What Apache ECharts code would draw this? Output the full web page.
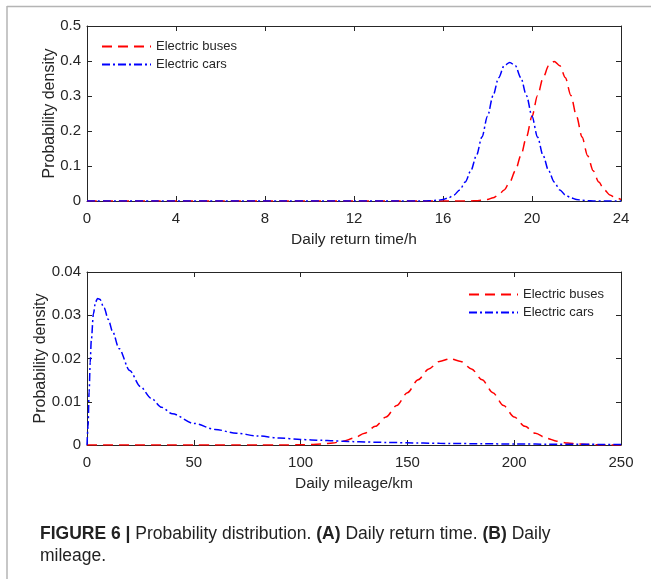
<!DOCTYPE html>
<html>
<head>
<meta charset="utf-8">
<script src="https://cdn.jsdelivr.net/npm/echarts@6/dist/echarts.min.js"></script>
<style>html,body{margin:0;padding:0;background:#fff;}#c{width:651px;height:579px;}</style>
</head>
<body>
<div id="c"></div>
<script>
// ---- (A) Daily return time ----
var timeX = [0,3,6,9,12,14,15,15.25,15.5,15.75,16,16.25,16.5,16.75,17,17.25,17.5,17.75,18,18.25,18.5,18.75,19,19.25,19.5,19.75,20,20.25,20.5,20.75,21,21.25,21.5,21.75,22,22.25,22.5,22.75,23,23.25,23.5,23.75,24];
var timeBuses = [0,0,0,0,0,0,0,0,0,0,0,0,0,0,0.000134,0.00035,0.00087,0.00203,0.00443,0.0091,0.0175,0.0317,0.054,0.0863,0.1295,0.1826,0.242,0.3011,0.3521,0.3867,0.3989,0.3867,0.3521,0.3011,0.242,0.1826,0.1295,0.0863,0.054,0.0317,0.0175,0.0091,0.00443];
var timeCars = [0,0,0,0,0,0,0.000134,0.00035,0.00087,0.00203,0.00443,0.0091,0.0175,0.0317,0.054,0.0863,0.1295,0.1826,0.242,0.3011,0.3521,0.3867,0.3959,0.3867,0.3521,0.3011,0.242,0.1826,0.1295,0.0863,0.054,0.0317,0.0175,0.0091,0.00443,0.00203,0.00087,0.00035,0.000134,0,0,0,0];
var timeTicks = [0,4,8,12,16,20,24];

// ---- (B) Daily mileage ----
var mileX = [0,0.5,1,1.5,2,3,4,5,6,8,10,12,15,20,25,30,35,40,50,60,70,80,90,100,105,110,115,120,125,130,135,140,145,150,155,160,165,170,175,180,185,190,195,200,205,210,215,220,225,230,235,240,250];
var mileBuses = [0,0,0,0,0,0,0,0,0,0,0,0,0,0,0,0,0,0,0,0,0,0,0,0.00004,0.0001,0.00022,0.000455,0.00088,0.00159,0.0027,0.00431,0.00648,0.00913,0.0121,0.01506,0.0176,0.01933,0.01995,0.01933,0.0176,0.01506,0.0121,0.00913,0.00648,0.00431,0.0027,0.00159,0.00088,0.000455,0.00022,0.0001,0.00004,0];
var mileCars = [0,0.0044,0.0123,0.0191,0.0241,0.0303,0.0331,0.0339,0.0337,0.0317,0.0290,0.0262,0.0223,0.0172,0.0135,0.0108,0.0087,0.0072,0.0050,0.0036,0.0027,0.0021,0.0016,0.0013,0.00118,0.00107,0.00096,0.000856,0.00078,0.00071,0.00065,0.00059,0.00055,0.0005,0.00046,0.000423,0.00039,0.00036,0.000335,0.000311,0.00029,0.00027,0.00025,0.000234,0.00022,0.000205,0.00019,0.00018,0.000169,0.00016,0.00015,0.00014,0.000125];
var mileTicks = [0,50,100,150,200,250];

var seriesNames = ['Electric buses','Electric cars'];

function pairs(xs, ys){ return xs.map(function(x,i){ return [x, ys[i]]; }); }

var txt = '#262626';
var font = 'Liberation Sans, Arial, Helvetica, sans-serif';

function mainX(grid, min, max, interval, name){
  return {type:'value', gridIndex:grid, min:min, max:max, interval:interval, position:'bottom',
    name:name, nameLocation:'middle', nameGap:31, nameMoveOverlap:false,
    nameTextStyle:{color:txt, fontSize:15.5, fontFamily:font},
    axisLine:{show:true, onZero:false, lineStyle:{color:txt, width:1}},
    axisTick:{show:true, inside:true, length:5, lineStyle:{color:txt}},
    axisLabel:{color:txt, fontSize:15, fontFamily:font, margin:10},
    splitLine:{show:false}};
}
function mirrorX(grid, min, max, interval){
  return {type:'value', gridIndex:grid, min:min, max:max, interval:interval, position:'top',
    axisLine:{show:true, onZero:false, lineStyle:{color:txt, width:1}},
    axisTick:{show:true, inside:true, length:5, lineStyle:{color:txt}},
    axisLabel:{show:false}, splitLine:{show:false}};
}
function mainY(grid, max, interval, gap){
  return {type:'value', gridIndex:grid, min:0, max:max, interval:interval, position:'left',
    name:'Probability density', nameLocation:'middle', nameGap:gap, nameRotate:90, nameMoveOverlap:false,
    nameTextStyle:{color:txt, fontSize:16, fontFamily:font},
    axisLine:{show:true, onZero:false, lineStyle:{color:txt, width:1}},
    axisTick:{show:true, inside:true, length:5, lineStyle:{color:txt}},
    axisLabel:{color:txt, fontSize:15, fontFamily:font, margin:6},
    splitLine:{show:false}};
}
function mirrorY(grid, max, interval){
  return {type:'value', gridIndex:grid, min:0, max:max, interval:interval, position:'right',
    axisLine:{show:true, onZero:false, lineStyle:{color:txt, width:1}},
    axisTick:{show:true, inside:true, length:5, lineStyle:{color:txt}},
    axisLabel:{show:false}, splitLine:{show:false}};
}

var busStyle = {color:'#ff0000', width:1.5, type:[10,6]};
var carStyle = {color:'#0000ff', width:1.5, type:[8,3,2,3]};

function line(name, xi, yi, data, style){
  return {type:'line', name:name, xAxisIndex:xi, yAxisIndex:yi, data:data,
    showSymbol:false, symbol:'none', smooth:0.3, smoothMonotone:'x',
    lineStyle:style, itemStyle:{color:style.color}, emphasis:{disabled:true}, animation:false, z:3};
}

function legendAt(left, top){
  return {show:true, orient:'vertical', left:left, top:top, padding:0, itemWidth:49, itemHeight:14, itemGap:5,
    data:seriesNames, selectedMode:false, itemStyle:{opacity:0, borderWidth:0},
    textStyle:{color:txt, fontSize:13, fontFamily:font}};
}

var chart = echarts.init(document.getElementById('c'), null, {renderer:'canvas'});
chart.setOption({
  animation:false,
  backgroundColor:'#fff',
  grid:[
    {left:87, top:26, width:534, height:175},
    {left:87, top:272, width:534, height:173}
  ],
  xAxis:[
    mainX(0, timeTicks[0], timeTicks[timeTicks.length-1], 4, 'Daily return time/h'),
    mirrorX(0, timeTicks[0], timeTicks[timeTicks.length-1], 4),
    mainX(1, mileTicks[0], mileTicks[mileTicks.length-1], 50, 'Daily mileage/km'),
    mirrorX(1, mileTicks[0], mileTicks[mileTicks.length-1], 50)
  ],
  yAxis:[
    mainY(0, 0.5, 0.1, 29),
    mirrorY(0, 0.5, 0.1),
    mainY(1, 0.04, 0.01, 38),
    mirrorY(1, 0.04, 0.01)
  ],
  legend:[ legendAt(101, 40), legendAt(468, 288) ],
  series:[
    line(seriesNames[0], 0, 0, pairs(timeX, timeBuses), busStyle),
    line(seriesNames[1], 0, 0, pairs(timeX, timeCars), carStyle),
    line(seriesNames[0], 2, 2, pairs(mileX, mileBuses), busStyle),
    line(seriesNames[1], 2, 2, pairs(mileX, mileCars), carStyle)
  ],
  graphic:[
    {type:'line', shape:{x1:7, y1:6.5, x2:651, y2:6.5}, style:{stroke:'#b4b4b4', lineWidth:1.5}, silent:true},
    {type:'line', shape:{x1:7, y1:6, x2:7, y2:579}, style:{stroke:'#b4b4b4', lineWidth:1.5}, silent:true},
    {type:'text', left:40, top:523, silent:true,
     style:{text:'{b|FIGURE 6 |} Probability distribution. {b|(A)} Daily return time. {b|(B)} Daily\nmileage.',
       fill:'#222', font:'17.5px ' + font, lineHeight:22,
       rich:{b:{fontWeight:'bold', fontSize:17.5, fontFamily:font, fill:'#222', lineHeight:22}}}}
  ]
});
</script>
</body>
</html>
